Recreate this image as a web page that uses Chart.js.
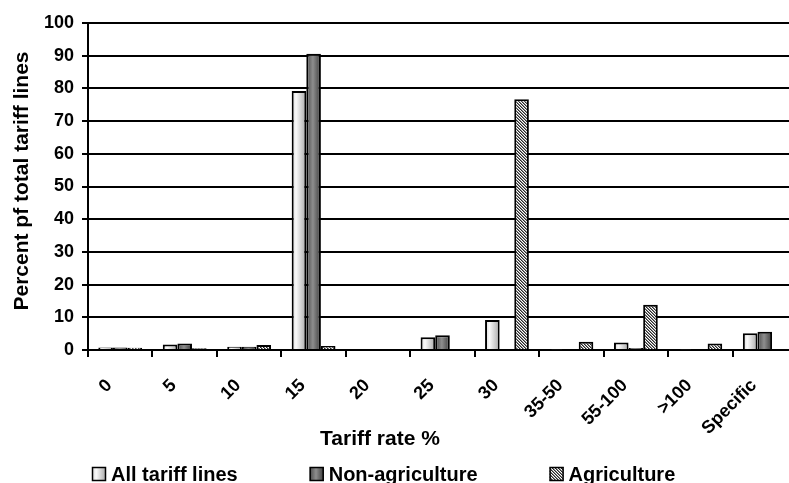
<!DOCTYPE html>
<html>
<head>
<meta charset="utf-8">
<script src="https://cdn.jsdelivr.net/npm/chart.js@4"></script>
<style>
  html, body { margin: 0; padding: 0; background: #fff; overflow: hidden; }
  #wrap { width: 800px; height: 483px; position: relative; }
</style>
</head>
<body>
<div id="wrap"><canvas id="tariffChart"></canvas></div>
<script>
const categories = ['0', '5', '10', '15', '20', '25', '30', '35-50', '55-100', '>100', 'Specific'];
const allLines = [0.8, 1.7, 1.0, 79.2, 0, 3.9, 9.2, 0.2, 2.3, 0.2, 5.1];
const nonAgriculture = [0.8, 2.0, 1.0, 90.6, 0, 4.5, 0, 0, 0.6, 0, 5.6];
const agriculture = [0.7, 0.5, 1.5, 1.2, 0, 0.3, 76.7, 2.5, 13.8, 2.0, 0];
const seriesNames = ['All tariff lines', 'Non-agriculture', 'Agriculture'];

const FONT = "'Liberation Sans', Arial, sans-serif";
const catPct = 0.68;

// fine diagonal hatch used for the agriculture bars
function hatch() {
  const c = document.createElement('canvas');
  c.width = 3; c.height = 3;
  const g = c.getContext('2d');
  g.fillStyle = '#ffffff';
  g.fillRect(0, 0, 3, 3);
  g.fillStyle = '#2a2a2a';
  for (let i = 0; i < 3; i++) g.fillRect(i, i, 1, 1);
  g.fillStyle = '#8a8a8a';
  for (let i = 0; i < 3; i++) g.fillRect((i + 1) % 3, i, 1, 1);
  return c;
}
const hatchCanvas = hatch();

const stops = [
  [[0, '#d4d4d4'], [0.3, '#fafafa'], [1, '#a8a8a8']],
  [[0, '#4a4a4a'], [0.45, '#8e8e8e'], [1, '#3c3c3c']]
];

function gradientFor(ctx2d, x0, w, idx) {
  const g = ctx2d.createLinearGradient(x0, 0, x0 + w, 0);
  stops[idx].forEach(s => g.addColorStop(s[0], s[1]));
  return g;
}

function barFill(dsIndex) {
  return (context) => {
    const chart = context.chart;
    if (dsIndex === 2) return chart.ctx.createPattern(hatchCanvas, 'repeat');
    const xs = chart.scales.x;
    if (!chart.chartArea || !xs || context.type !== 'data') return stops[dsIndex][1][1];
    const cw = xs.width / categories.length;
    const bw = cw * catPct / 3;
    const x0 = xs.getPixelForValue(context.dataIndex) - 1.5 * bw + dsIndex * bw;
    return gradientFor(chart.ctx, x0, bw, dsIndex);
  };
}

const titlesAndLegend = {
  id: 'titlesAndLegend',
  afterDraw(chart) {
    const c = chart.ctx;
    c.save();
    c.fillStyle = '#000';
    // y axis title
    c.font = 'bold 21px ' + FONT;
    c.textAlign = 'center';
    c.textBaseline = 'alphabetic';
    c.save();
    c.translate(28, 181);
    c.rotate(-Math.PI / 2);
    c.fillText('Percent pf total tariff lines', 0, 0);
    c.restore();
    // x axis title
    c.fillText('Tariff rate %', 380, 445);
    // legend
    c.font = 'bold 20px ' + FONT;
    c.textAlign = 'left';
    let x = 92;
    const y = 467, box = 14;
    seriesNames.forEach((name, i) => {
      if (i === 2) c.fillStyle = c.createPattern(hatchCanvas, 'repeat');
      else c.fillStyle = gradientFor(c, x, box, i);
      c.fillRect(x, y, box, box);
      c.strokeStyle = '#000';
      c.lineWidth = 1.5;
      c.strokeRect(x + 0.5, y + 0.5, box - 1, box - 1);
      c.fillStyle = '#000';
      c.fillText(name, x + box + 5, y + box);
      x += box + 5 + c.measureText(name).width + 72;
    });
    c.restore();
  }
};

const chart = new Chart(document.getElementById('tariffChart'), {
  type: 'bar',
  data: {
    labels: categories,
    datasets: [allLines, nonAgriculture, agriculture].map((d, i) => ({
      label: seriesNames[i],
      data: d,
      backgroundColor: barFill(i),
      borderColor: '#000',
      borderWidth: 2,
      borderSkipped: 'start',
      categoryPercentage: catPct,
      barPercentage: 1
    }))
  },
  options: {
    responsive: true,
    maintainAspectRatio: false,
    animation: false,
    events: [],
    layout: { padding: { top: 23, right: 3, left: 0, bottom: 0 } },
    plugins: { legend: { display: false }, tooltip: { enabled: false } },
    scales: {
      x: {
        afterFit: (s) => { s.height = 133; },
        border: { color: '#000', width: 2 },
        grid: { offset: true, drawOnChartArea: false, drawTicks: true, tickLength: 7, color: '#000', lineWidth: 2 },
        ticks: {
          color: '#000',
          font: { family: FONT, size: 18, weight: 'bold' },
          minRotation: 45,
          maxRotation: 45,
          autoSkip: false,
          padding: 18,
          labelOffset: -11
        }
      },
      y: {
        min: 0,
        max: 100,
        afterFit: (s) => { s.width = 88; },
        border: { color: '#000', width: 2 },
        grid: { color: '#000', lineWidth: 2, tickLength: 6 },
        ticks: {
          stepSize: 10,
          color: '#000',
          padding: 8,
          font: { family: FONT, size: 18, weight: 'bold' }
        }
      }
    }
  },
  plugins: [titlesAndLegend]
});
</script>
</body>
</html>
